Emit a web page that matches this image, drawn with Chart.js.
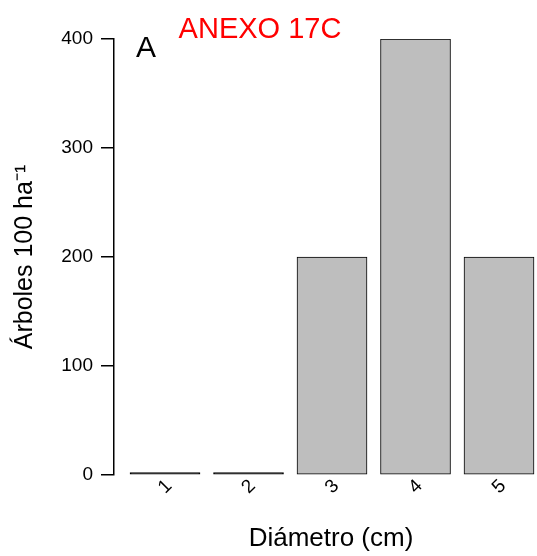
<!DOCTYPE html>
<html>
<head>
<meta charset="utf-8">
<script src="https://cdn.jsdelivr.net/npm/chart.js@4/dist/chart.umd.min.js"></script>
<style>
  html, body { margin: 0; padding: 0; background: #ffffff; }
  #wrap { width: 537px; height: 556px; }
</style>
</head>
<body>
<div id="wrap"><canvas id="treeChart" width="537" height="556"></canvas></div>
<script>
'use strict';

/* ── Data ────────────────────────────────────── */
var categories = ['1', '2', '3', '4', '5'];
var trees      = [0, 0, 200, 400, 200];
var yTicks     = [0, 100, 200, 300, 400];

var panelLabel = 'A';
var annexLabel = 'ANEXO 17C';
var xTitle     = 'Diámetro (cm)';
var yTitle     = 'Árboles 100 ha⁻¹';

Chart.defaults.font.family = "'Liberation Sans', Arial, sans-serif";
Chart.defaults.color = '#000000';

/* ── Panel letter, red annex tag, x title (R centres it on the plot region) ── */
var extraText = {
  id: 'extraText',
  afterDraw: function (chart) {
    var ctx = chart.ctx;
    ctx.save();
    ctx.textBaseline = 'alphabetic';
    ctx.fillStyle = '#000000';
    ctx.font = "30px 'Liberation Sans', Arial, sans-serif";
    ctx.textAlign = 'left';
    ctx.fillText(panelLabel, 136, 57);
    ctx.font = "26px 'Liberation Sans', Arial, sans-serif";
    ctx.textAlign = 'center';
    ctx.fillText(xTitle, 331, 546);
    ctx.fillStyle = '#ff0000';
    ctx.font = "29px 'Liberation Sans', Arial, sans-serif";
    ctx.fillText(annexLabel, 260, 38);
    ctx.restore();
  }
};

new Chart(document.getElementById('treeChart'), {
  type: 'bar',
  data: {
    datasets: [{
      data: categories.map(function (c, i) { return { x: Number(c), y: trees[i] }; }),
      /* empty classes show up as a flat black outline in the R barplot;
         minBarLength centres them on the base, the lower half is clipped */
      backgroundColor: trees.map(function (v) { return v === 0 ? '#000000' : '#bebebe'; }),
      borderColor: '#000000',
      borderWidth: 1,
      borderSkipped: false,
      barThickness: 70,
      minBarLength: 2.5
    }]
  },
  options: {
    responsive: false,
    animation: false,
    layout: { padding: { top: 39, right: 0, bottom: 0, left: 0 } },
    plugins: { legend: { display: false }, tooltip: { enabled: false } },
    scales: {
      x: {
        type: 'linear',
        offset: false,
        bounds: 'data',
        min: 0.389,
        max: 5.455,
        afterBuildTicks: function (s) { s.ticks = categories.map(function (c) { return { value: Number(c) }; }); },
        afterFit: function (s) { s.height = 81; },
        grid: { display: false, drawTicks: false },
        border: { display: false },
        ticks: {
          autoSkip: false, minRotation: 45, maxRotation: 45,
          padding: 0, labelOffset: 4,
          font: { size: 19 }, color: '#000000',
          callback: function (v) { return String(v); }
        }
      },
      y: {
        min: yTicks[0],
        max: yTicks[yTicks.length - 1],
        ticks: { stepSize: yTicks[1] - yTicks[0], padding: 8, font: { size: 19 }, color: '#000000' },
        afterFit: function (s) { s.width = 114; },
        grid: { display: true, drawOnChartArea: false, drawTicks: true, tickLength: 13, color: '#000000', lineWidth: 1.5 },
        border: { display: true, color: '#000000', width: 1.5 },
        title: { display: true, text: yTitle, font: { size: 25 }, color: '#000000', padding: { top: 10, bottom: 0 } }
      }
    }
  },
  plugins: [extraText]
});
</script>
</body>
</html>
